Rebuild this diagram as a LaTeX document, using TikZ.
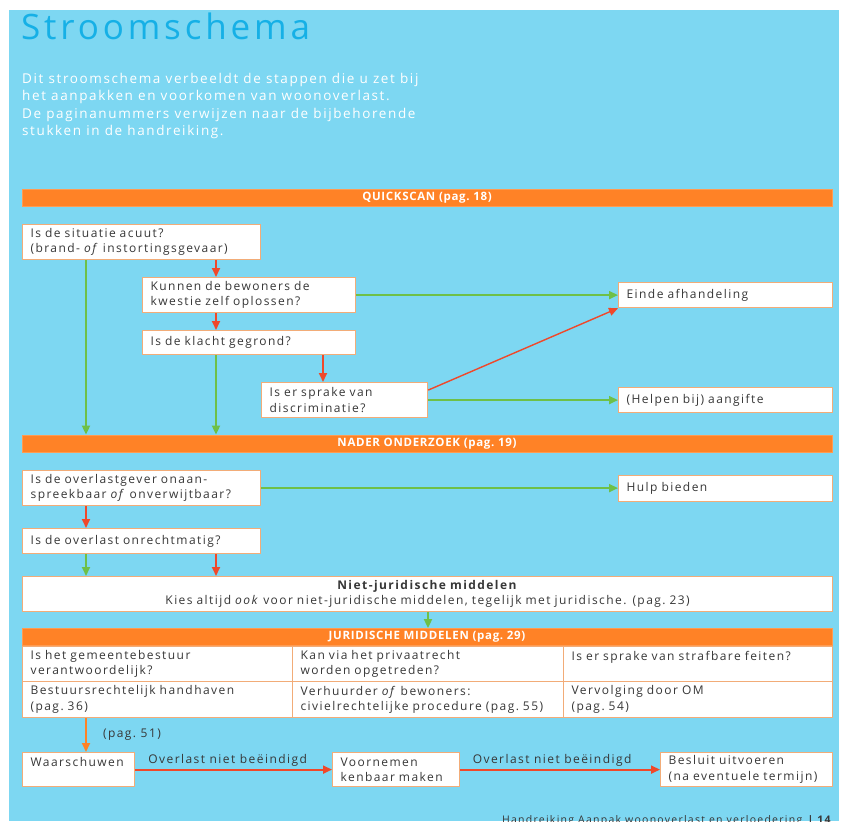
\documentclass[tikz,border=0pt]{standalone}
\usepackage{fontspec}
\setmainfont{Open Sans}[LetterSpace=12]
\newfontfamily\titlefont{Open Sans}[LetterSpace=11]
\newfontfamily\barfont{Open Sans}[LetterSpace=6]
\usetikzlibrary{arrows.meta}
\definecolor{bg}{RGB}{125,215,242}
\definecolor{titleblue}{RGB}{22,176,230}
\definecolor{barorange}{RGB}{255,130,38}
\definecolor{boxline}{RGB}{242,172,120}
\definecolor{arred}{RGB}{240,72,42}
\definecolor{argreen}{RGB}{110,192,72}
\definecolor{txt}{RGB}{55,55,55}
\begin{document}
\begin{tikzpicture}[x=1pt,y=-1pt,
  box/.style={draw=boxline, line width=1.2pt, fill=white, inner xsep=7pt, inner ysep=0pt,
    align=left, anchor=north west, text=txt, font=\fontsize{12}{15.5}\selectfont},
  bar/.style={draw=barorange!80!white, fill=barorange, line width=0.8pt, minimum width=810, minimum height=17,
    inner sep=0pt, text=white, font=\barfont\bfseries\fontsize{11.5}{12}\selectfont},
  arr/.style={-{Triangle[length=9pt,width=8pt]}, line width=1.8pt},
  rarr/.style={arr, draw=arred, fill=arred},
  garr/.style={arr, draw=argreen, fill=argreen},
  oarr/.style={arr, draw=barorange, fill=barorange},
  lbl/.style={text=txt, font=\fontsize{12}{13}\selectfont, inner sep=1pt}
]
\useasboundingbox (0,0) rectangle (845,821);
\fill[bg] (9,10) rectangle (839,821);
\node[anchor=base west, inner sep=0pt, text=titleblue, font=\titlefont\fontsize{35}{40}\selectfont] (title) at (21,40) {Stroomschema};
\node[anchor=north west, inner sep=0pt, align=left, text=white, font=\fontsize{13.5}{17.5}\selectfont] (intro) at (22,73)
  {Dit stroomschema verbeeldt de stappen die u zet bij\\het aanpakken en voorkomen van woonoverlast.\\De paginanummers verwijzen naar de bijbehorende\\stukken in de handreiking.};

% QUICKSCAN
\node[bar] (qs) at (427,197.5) {QUICKSCAN (pag.\ 18)};
\node[box, minimum width=238, minimum height=35, text width=222] (b1) at (22,224) {Is de situatie acuut?\\(brand- \textit{of} instortingsgevaar)};
\node[box, minimum width=213, minimum height=35, text width=197] (b2) at (142,277) {Kunnen de bewoners de\\kwestie zelf oplossen?};
\node[box, minimum width=213, minimum height=24, text width=197] (b3) at (142,330) {Is de klacht gegrond?};
\node[box, minimum width=166, minimum height=35, text width=150] (b4) at (261,382) {Is er sprake van\\discriminatie?};
\node[box, minimum width=214, minimum height=25, text width=198] (einde) at (618,282) {Einde afhandeling};
\node[box, minimum width=214, minimum height=25, text width=198] (aangifte) at (618,387) {(Helpen bij) aangifte};

% NADER ONDERZOEK
\node[bar] (nader) at (427,443.5) {NADER ONDERZOEK (pag.\ 19)};
\node[box, minimum width=238, minimum height=35, text width=222] (b5) at (22,470) {Is de overlastgever onaan-\\spreekbaar \textit{of} onverwijtbaar?};
\node[box, minimum width=214, minimum height=26, text width=198] (hulp) at (618,474.5) {Hulp bieden};
\node[box, minimum width=238, minimum height=25, text width=222] (b6) at (22,528) {Is de overlast onrechtmatig?};
\node[box, minimum width=810, minimum height=35, text width=794, align=center] (nj) at (22,576)
  {\textbf{Niet-juridische middelen}\\Kies altijd \textit{ook} voor niet-juridische middelen, tegelijk met juridische. (pag.\ 23)};

% JURIDISCHE MIDDELEN
\node[bar] (jm) at (427,637) {JURIDISCHE MIDDELEN (pag.\ 29)};
\node[box, minimum width=270, minimum height=35, text width=254] (c11) at (22,646) {Is het gemeentebestuur\\verantwoordelijk?};
\node[box, minimum width=271, minimum height=35, text width=255] (c12) at (292,646) {Kan via het privaatrecht\\worden opgetreden?};
\node[box, minimum width=269, minimum height=35, text width=253] (c13) at (563,646) {Is er sprake van strafbare feiten?\\\mbox{}};
\node[box, minimum width=270, minimum height=36, text width=254] (c21) at (22,681) {Bestuursrechtelijk handhaven\\(pag.\ 36)};
\node[box, minimum width=271, minimum height=36, text width=255] (c22) at (292,681) {Verhuurder \textit{of} bewoners:\\civielrechtelijke procedure (pag.\ 55)};
\node[box, minimum width=269, minimum height=36, text width=253] (c23) at (563,681) {Vervolging door OM\\(pag.\ 54)};

\node[box, minimum width=112, minimum height=34, text width=96] (warn) at (22,752) {Waarschuwen\\\mbox{}};
\node[box, minimum width=127, minimum height=34, text width=111] (voor) at (332,752) {Voornemen\\kenbaar maken};
\node[box, minimum width=172, minimum height=34, text width=156] (besluit) at (660,752) {Besluit uitvoeren\\(na eventuele termijn)};

\node[anchor=base east, inner sep=0pt, text=txt, font=\fontsize{10.5}{13}\selectfont] (footer) at (832,823)
  {Handreiking Aanpak woonoverlast en verloedering \textbf{| 14}};

% connectors
\coordinate (xa) at (86,0);
\coordinate (xb) at (216,0);
\coordinate (xc) at (323,0);
\coordinate (xd) at (428,0);
\draw[rarr] (b1.south -| xb) -- (b2.north -| xb);
\draw[garr] (b1.south -| xa) -- (nader.north -| xa);
\draw[rarr] (b2.south -| xb) -- (b3.north -| xb);
\draw[garr] (b2.east) -- (einde.west);
\draw[garr] (b3.south -| xb) -- (nader.north -| xb);
\draw[rarr] (b3.south -| xc) -- (b4.north -| xc);
\draw[rarr, line width=1.4pt] ([yshift=10pt]b4.east) -- (einde.south west);
\draw[garr] (b4.east) -- (aangifte.west);
\draw[garr] (b5.east) -- (hulp.west);
\draw[rarr] (b5.south -| xa) -- (b6.north -| xa);
\draw[garr] (b6.south -| xa) -- (nj.north -| xa);
\draw[rarr] (b6.south -| xb) -- (nj.north -| xb);
\draw[garr] (nj.south -| xd) -- (jm.north -| xd);
\draw[oarr] (c21.south -| xa) -- (warn.north -| xa);
\node[lbl] (p51) at (132,735) {(pag.\ 51)};
\draw[rarr] (warn.east) -- (voor.west) node[lbl, pos=0.47, above=1pt] (l1) {Overlast niet beëindigd};
\draw[rarr] (voor.east) -- (besluit.west) node[lbl, pos=0.46, above=1pt] (l2) {Overlast niet beëindigd};
\end{tikzpicture}
\end{document}
